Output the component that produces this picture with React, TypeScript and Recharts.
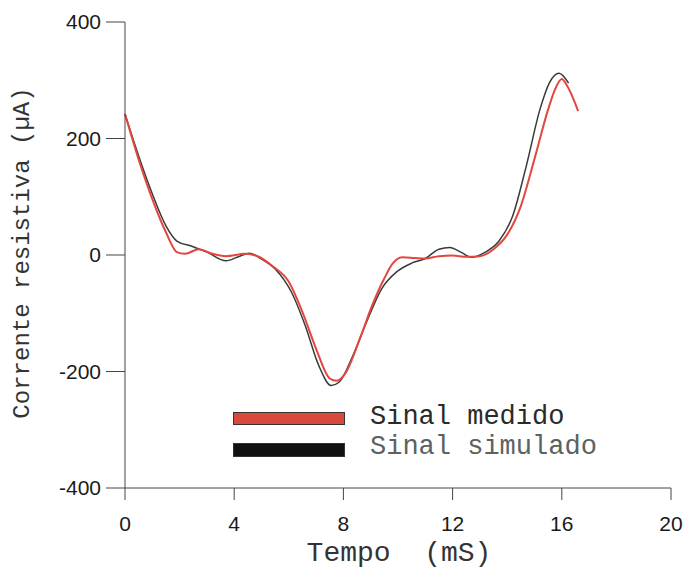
import React from 'react';
import { LineChart, Line, XAxis, YAxis } from 'recharts';

// Sinal medido (red)
const tMedido = [0, 0.5, 1, 1.5, 1.9, 2.2, 2.7, 3.2, 3.7, 4.4, 4.9, 5.4, 6.0, 6.5, 7.0, 7.5, 7.75, 8.1, 8.6, 9.05, 9.5, 9.8, 10.15, 10.6, 11.0, 11.5, 12.0, 12.5, 13.0, 13.5, 14.0, 14.5, 15.0, 15.5, 15.75, 16.0, 16.2, 16.6];
const medido = [242, 164, 96, 39, 5, 2, 10, 2, -2, 2, -3, -19, -46, -98, -161, -212, -216, -201, -144, -87, -40, -15, -4, -5, -6, -2, -1, -3, -2, 10, 35, 84, 165, 250, 284, 302, 290, 247];

// Sinal simulado (black)
const tSimulado = [0, 0.5, 1, 1.5, 1.9, 2.45, 3.0, 3.7, 4.2, 4.55, 5.0, 5.5, 6.1, 6.6, 7.1, 7.55, 7.85, 8.3, 8.85, 9.4, 9.95, 10.5, 11.0, 11.5, 11.9, 12.3, 12.7, 13.2, 13.7, 14.2, 14.7, 15.2, 15.55, 15.9, 16.25];
const simulado = [242, 170, 105, 50, 24, 15, 5, -10, -2, 3, -7, -24, -64, -121, -190, -224, -218, -178, -115, -58, -29, -14, -6, 10, 13, 5, -4, 5, 24, 67, 153, 250, 296, 312, 295];

const xTicks = [0, 4, 8, 12, 16, 20];
const yTicks = [-400, -200, 0, 200, 400];

const medidoData = tMedido.map((t, i) => ({ t, v: medido[i] }));
const simuladoData = tSimulado.map((t, i) => ({ t, v: simulado[i] }));

const tickStyle = { fill: '#1a1a1a', fontSize: 21, fontFamily: 'Liberation Sans, Arial, sans-serif' };
const mono = '"Liberation Mono", "Courier New", monospace';

export default function App() {
  return (
    <div style={{ position: 'absolute', left: 0, top: 0, width: 693, height: 569, background: '#fff' }}>
      <LineChart width={693} height={569} margin={{ top: 22, right: 22, left: 0, bottom: 0 }}>
        <XAxis
          type="number"
          dataKey="t"
          domain={[0, 20]}
          ticks={xTicks}
          height={81}
          tickSize={12}
          tickMargin={16}
          tick={tickStyle}
          stroke="#444"
          allowDuplicatedCategory={false}
        />
        <YAxis
          type="number"
          dataKey="v"
          domain={[-400, 400]}
          ticks={yTicks}
          width={125}
          tickSize={19}
          tickMargin={5}
          tick={tickStyle}
          stroke="#444"
        />
        <Line
          data={simuladoData}
          dataKey="v"
          type="monotone"
          stroke="#3a3a3a"
          strokeWidth={1.5}
          dot={false}
          isAnimationActive={false}
        />
        <Line
          data={medidoData}
          dataKey="v"
          type="monotone"
          stroke="#e2473f"
          strokeWidth={2}
          dot={false}
          isAnimationActive={false}
        />
      </LineChart>

      {/* axis titles */}
      <div
        style={{
          position: 'absolute',
          left: 22,
          top: 253,
          transform: 'translate(-50%, -50%) rotate(-90deg)',
          fontFamily: mono,
          fontSize: 24,
          color: '#333',
          whiteSpace: 'pre',
        }}
      >
        Corrente resistiva (µA)
      </div>
      <div
        style={{
          position: 'absolute',
          left: 399,
          top: 553,
          transform: 'translate(-50%, -50%)',
          fontFamily: mono,
          fontSize: 28,
          color: '#333',
          whiteSpace: 'pre',
        }}
      >
        Tempo  (mS)
      </div>

      {/* legend */}
      <div style={{ position: 'absolute', left: 233, top: 412, width: 110, height: 11, background: '#d9493b', border: '1px solid #333' }} />
      <div style={{ position: 'absolute', left: 233, top: 443, width: 110, height: 12, background: '#111', border: '1px solid #333' }} />
      <div style={{ position: 'absolute', left: 370, top: 402, fontFamily: mono, fontSize: 27, color: '#2a2a2a', whiteSpace: 'pre' }}>
        Sinal medido
      </div>
      <div style={{ position: 'absolute', left: 370, top: 432, fontFamily: mono, fontSize: 27, color: '#5a6262', whiteSpace: 'pre' }}>
        Sinal simulado
      </div>
    </div>
  );
}
